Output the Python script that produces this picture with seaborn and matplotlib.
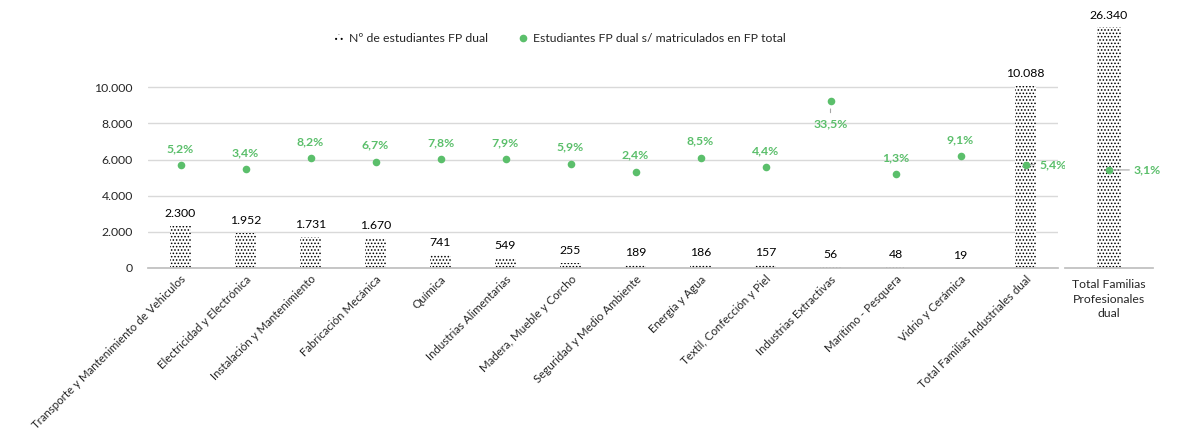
import matplotlib
matplotlib.use("Agg")
import matplotlib.pyplot as plt
import seaborn as sns
import pandas as pd
from matplotlib.patches import Patch
from matplotlib.lines import Line2D

# Datos
familias = ['Transporte y Mantenimiento de Vehiculos', 'Electricidad y Electrónica',
            'Instalación y Mantenimiento', 'Fabricación Mecánica', 'Química',
            'Industrias Alimentarias', 'Madera, Mueble y Corcho',
            'Seguridad y Medio Ambiente', 'Energía y Agua',
            'Textil, Confección y Piel', 'Industrias Extractivas',
            'Marítimo - Pesquera', 'Vidrio y Cerámica',
            'Total Familias Industriales dual']
estudiantes = [2300, 1952, 1731, 1670, 741, 549, 255, 189, 186, 157, 56, 48, 19, 10088]
porcentaje = [5.2, 3.4, 8.2, 6.7, 7.8, 7.9, 5.9, 2.4, 8.5, 4.4, 33.5, 1.3, 9.1, 5.4]
total_label = 'Total Familias\nProfesionales\ndual'
total_estudiantes = [26340]
total_porcentaje = [3.1]

verde = '#5BBF6B'
gris = '#D9D9D9'
fs = 8.8

sns.set_theme(style="white")
plt.rcParams['font.family'] = ['Lato', 'DejaVu Sans']
plt.rcParams['hatch.color'] = 'black'
plt.rcParams['hatch.linewidth'] = 0.7

def fmt_miles(v):
    return f'{v:,.0f}'.replace(',', '.')

W, H = 1180, 436
fig = plt.figure(figsize=(W / 100, H / 100), dpi=100)

# Panel principal
ax1 = fig.add_axes([148 / W, (H - 268) / H, 910 / W, (268 - 40) / H])
df = pd.DataFrame({'familia': familias, 'n': estudiantes, 'pct': porcentaje})
sns.barplot(data=df, x='familia', y='n', ax=ax1, color='white', width=0.31,
            hatch='.....', edgecolor='black', linewidth=0, saturation=1)
ax1.set_ylim(0, (268 - 40) / 18.07 * 1000)
ax1.set_yticks(range(0, 10001, 2000))
ax1.set_yticklabels([fmt_miles(v) for v in range(0, 10001, 2000)], fontsize=fs)
ax1.yaxis.grid(True, color=gris, linewidth=1)
ax1.set_axisbelow(True)
for s in ['top', 'right', 'left']:
    ax1.spines[s].set_visible(False)
ax1.spines['bottom'].set_color('#BFBFBF')
ax1.set_xlabel('')
ax1.set_ylabel('')
ax1.tick_params(axis='y', length=0, pad=11)
ax1.tick_params(axis='x', which='major', length=0, pad=4)
ax1.set_xticks(range(len(familias)))
ax1.set_xticklabels(familias, rotation=45, ha='right', rotation_mode='anchor', fontsize=8.3)
ax1.set_xticks([i - 0.5 for i in range(len(familias) + 1)], minor=True)
ax1.tick_params(axis='x', which='minor', length=5, color='#BFBFBF', direction='out')
ax1.set_xlim(-0.5, len(familias) - 0.5)
for i, v in enumerate(estudiantes):
    ax1.annotate(fmt_miles(v), (i, v), xytext=(0, 5), textcoords='offset points',
                 ha='center', va='bottom', fontsize=fs, color='black')

ax1b = ax1.twinx()
sns.scatterplot(data=df, x='familia', y='pct', ax=ax1b, color=verde, s=30,
                edgecolor=verde, linewidth=0, zorder=5)
ax1b.set_ylim((177 - 268) / 2.28, (177 - 40) / 2.28)
ax1b.set_axis_off()
for i, p in enumerate(porcentaje):
    txt = f'{p:.1f}%'.replace('.', ',')
    if p > 30:
        ax1b.annotate(txt, (i, p), xytext=(0, -17), textcoords='offset points',
                      ha='center', va='center', fontsize=fs, color=verde, fontweight='bold',
                      arrowprops=dict(arrowstyle='-', color='#A6A6A6', lw=0.8, shrinkA=2, shrinkB=6))
    elif i == len(porcentaje) - 1:
        ax1b.annotate(txt, (i, p), xytext=(10, 0), textcoords='offset points',
                      ha='left', va='center', fontsize=fs, color=verde, fontweight='bold',
                      arrowprops=dict(arrowstyle='-', color='#A6A6A6', lw=0.8, shrinkA=1, shrinkB=1))
    else:
        ax1b.annotate(txt, (i, p), xytext=(0, 8), textcoords='offset points',
                      ha='center', va='bottom', fontsize=fs, color=verde, fontweight='bold')

# Panel total
ax2 = fig.add_axes([1065 / W, (H - 268) / H, 88 / W, (268 - 27) / H])
dt = pd.DataFrame({'familia': [total_label], 'n': total_estudiantes, 'pct': total_porcentaje})
sns.barplot(data=dt, x='familia', y='n', ax=ax2, color='white', width=0.28,
            hatch='.....', edgecolor='black', linewidth=0, saturation=1)
ax2.set_ylim(0, 26340)
ax2.set_xlim(-0.5, 0.5)
for s in ['top', 'right', 'left']:
    ax2.spines[s].set_visible(False)
ax2.spines['bottom'].set_color('#BFBFBF')
ax2.set_yticks([])
ax2.set_xlabel('')
ax2.set_ylabel('')
ax2.set_xticks([0])
ax2.set_xticklabels([total_label], fontsize=fs, linespacing=1.4)
ax2.tick_params(axis='x', which='major', length=0, pad=8)
ax2.set_xticks([-0.5, 0.5], minor=True)
ax2.tick_params(axis='x', which='minor', length=5, color='#BFBFBF', direction='out')
for v in total_estudiantes:
    ax2.annotate(fmt_miles(v), (0, v), xytext=(0, 4), textcoords='offset points',
                 ha='center', va='bottom', fontsize=fs, color='black', annotation_clip=False)

ax2b = ax2.twinx()
sns.scatterplot(data=dt, x='familia', y='pct', ax=ax2b, color=verde, s=30,
                edgecolor=verde, linewidth=0, zorder=5)
ax2b.set_ylim((177 - 268) / 2.28, (177 - 27) / 2.28)
ax2b.set_xlim(-0.5, 0.5)
ax2b.set_axis_off()
for p in total_porcentaje:
    ax2b.annotate(f'{p:.1f}%'.replace('.', ','), (0, p), xytext=(18, 0),
                  textcoords='offset points', ha='left', va='center', fontsize=fs,
                  color=verde, fontweight='bold',
                  arrowprops=dict(arrowstyle='-', color='#A6A6A6', lw=0.8, shrinkA=1, shrinkB=2))

# Leyenda
handles = [Patch(facecolor='white', hatch='...', edgecolor='black', linewidth=0,
                 label='Nº de estudiantes FP dual'),
           Line2D([], [], marker='o', linestyle='', color=verde, markersize=4.5,
                  label='Estudiantes FP dual s/ matriculados en FP total')]
fig.legend(handles=handles, loc='center', bbox_to_anchor=(560 / W, 1 - 39 / H), ncol=2,
           frameon=False, fontsize=fs, handlelength=0.7, handleheight=0.7,
           columnspacing=2.5, handletextpad=0.5)

fig.savefig('out.png', dpi=100)
